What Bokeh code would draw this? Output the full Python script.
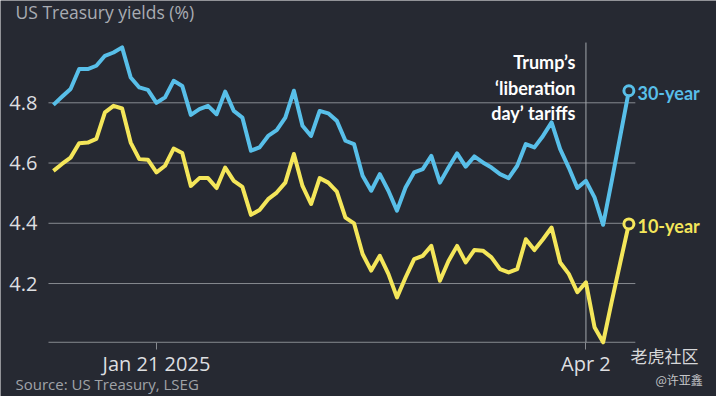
from bokeh.plotting import figure
from bokeh.models import Range1d, FixedTicker, Label
from bokeh.embed import file_html
from bokeh.resources import INLINE

# ---- data (trading-day index) ----
yield_30y = [4.793, 4.82, 4.846, 4.912, 4.912, 4.923, 4.956, 4.967, 4.984, 4.884,
             4.851, 4.843, 4.80, 4.818, 4.873, 4.856, 4.76, 4.779, 4.79, 4.762,
             4.837, 4.773, 4.751, 4.641, 4.652, 4.69, 4.709, 4.751, 4.84, 4.724,
             4.69, 4.773, 4.765, 4.74, 4.674, 4.663, 4.558, 4.508, 4.563, 4.508,
             4.442, 4.519, 4.569, 4.58, 4.624, 4.535, 4.585, 4.632, 4.588, 4.622,
             4.602, 4.585, 4.563, 4.55, 4.591, 4.663, 4.652, 4.69, 4.735, 4.646,
             4.585, 4.517, 4.541, 4.486, 4.395, 4.54, 4.69, 4.84]
yield_10y = [4.574, 4.597, 4.618, 4.666, 4.668, 4.68, 4.768, 4.79, 4.781, 4.668,
             4.613, 4.611, 4.569, 4.591, 4.648, 4.633, 4.524, 4.55, 4.55, 4.517,
             4.585, 4.541, 4.521, 4.428, 4.444, 4.48, 4.502, 4.535, 4.63, 4.524,
             4.464, 4.55, 4.535, 4.505, 4.419, 4.40, 4.298, 4.243, 4.292, 4.232,
             4.154, 4.22, 4.281, 4.292, 4.325, 4.209, 4.275, 4.325, 4.27, 4.311,
             4.309, 4.287, 4.248, 4.237, 4.248, 4.347, 4.311, 4.347, 4.386, 4.27,
             4.232, 4.171, 4.204, 4.055, 4.005, 4.14, 4.27, 4.398]
day_index = list(range(len(yield_30y)))
y_ticks = [4.2, 4.4, 4.6, 4.8]
x_tick_pos = [12, 62]
x_tick_labels = ["Jan 21 2025", "Apr 2"]
event_idx = 62
series_names = ["30-year", "10-year"]
title_text = "US Treasury yields (%)"
source_text = "Source: US Treasury, LSEG"
event_lines = ["Trump\u2019s", "\u2018liberation", "day\u2019 tariffs"]

BG = "#262932"
BLUE = "#58bfe9"
YELLOW = "#f4e65a"
GRID = "#878a90"
FONT = "Open Sans"
BOLD_FONT = "Lato"

# plot area edges (in data units) for grid / baseline / event line
X_LEFT, X_RIGHT = -0.57, 67.75
Y_BASE, Y_TOP = 4.005, 5.0

p = figure(width=716, height=396, output_backend="svg", toolbar_location=None,
           x_range=Range1d(-6.158, 77.2), y_range=Range1d(3.825, 5.1396),
           min_border_left=0, min_border_right=0, min_border_top=0,
           min_border_bottom=0, background_fill_color=BG, border_fill_color=BG,
           outline_line_color=None)

p.xgrid.visible = False
p.ygrid.visible = False

# y axis, drawn inside the frame at the plot's left edge
p.yaxis.fixed_location = X_LEFT
p.yaxis.ticker = FixedTicker(ticks=y_ticks)
p.yaxis.axis_line_color = None
p.yaxis.major_tick_line_color = None
p.yaxis.minor_tick_line_color = None
p.yaxis.major_label_standoff = 5
p.yaxis.major_label_text_font = FONT
p.yaxis.major_label_text_font_size = "20px"
p.yaxis.major_label_text_color = "#dedfe1"

# x axis, drawn at the baseline
p.xaxis.fixed_location = Y_BASE
p.xaxis.ticker = FixedTicker(ticks=x_tick_pos)
p.xaxis.major_label_overrides = {k: v for k, v in zip(x_tick_pos, x_tick_labels)}
p.xaxis.axis_line_color = None
p.xaxis.major_tick_line_color = GRID
p.xaxis.major_tick_out = 7
p.xaxis.major_tick_in = 0
p.xaxis.minor_tick_line_color = None
p.xaxis.major_label_standoff = 1
p.xaxis.major_label_text_font = FONT
p.xaxis.major_label_text_font_size = "20px"
p.xaxis.major_label_text_color = "#dedfe1"

# horizontal grid lines + baseline
p.segment(x0=[X_LEFT] * len(y_ticks), y0=y_ticks, x1=[X_RIGHT] * len(y_ticks),
          y1=y_ticks, line_color=GRID, line_width=1)
p.segment(x0=[X_LEFT], y0=[Y_BASE], x1=[X_RIGHT], y1=[Y_BASE],
          line_color=GRID, line_width=1)

# event line
p.segment(x0=[event_idx], y0=[Y_BASE], x1=[event_idx], y1=[Y_TOP],
          line_color="#a3a6ab", line_width=1)

# series
for ys, col in ((yield_30y, BLUE), (yield_10y, YELLOW)):
    p.line(day_index, ys, line_width=4, line_color=col, line_join="round")
    p.scatter([day_index[-1]], [ys[-1]], size=10, fill_color=BG, line_color=col,
              line_width=3)

# series labels
p.add_layout(Label(x=day_index[-1] + 1.0, y=yield_30y[-1] - 0.0075,
                   text=series_names[0], text_color=BLUE, text_font=BOLD_FONT,
                   text_font_size="18px", text_font_style="bold",
                   text_baseline="middle"))
p.add_layout(Label(x=day_index[-1] + 1.0, y=yield_10y[-1] - 0.006,
                   text=series_names[1], text_color=YELLOW, text_font=BOLD_FONT,
                   text_font_size="18px", text_font_style="bold",
                   text_baseline="middle"))

# event annotation
for txt, yv in zip(event_lines, [4.9364, 4.8501, 4.7671]):
    p.add_layout(Label(x=60.78, y=yv, text=txt, text_color="#ffffff",
                       text_font=BOLD_FONT, text_font_size="18px",
                       text_font_style="bold", text_align="right",
                       text_baseline="middle"))

# title and source
p.add_layout(Label(x=-4.41, y=5.1015, text=title_text, text_color="#a9acb2",
                   text_font=FONT, text_font_size="17.5px",
                   text_baseline="middle"))
p.add_layout(Label(x=-4.41, y=3.867, text=source_text, text_color="#a0a3a8",
                   text_font=FONT, text_font_size="15px",
                   text_baseline="middle"))

# watermark
p.add_layout(Label(x=67.18, y=3.961, text="老虎社区", text_color="#d6d7d9",
                   text_font="Noto Sans CJK SC", text_font_size="17px",
                   text_baseline="middle"))
p.add_layout(Label(x=70.1, y=3.882, text="@许亚鑫", text_color="#c4c5c8",
                   text_font="Noto Sans CJK SC", text_font_size="12px",
                   text_baseline="middle"))

open("out.html", "w").write(file_html(p, INLINE))
